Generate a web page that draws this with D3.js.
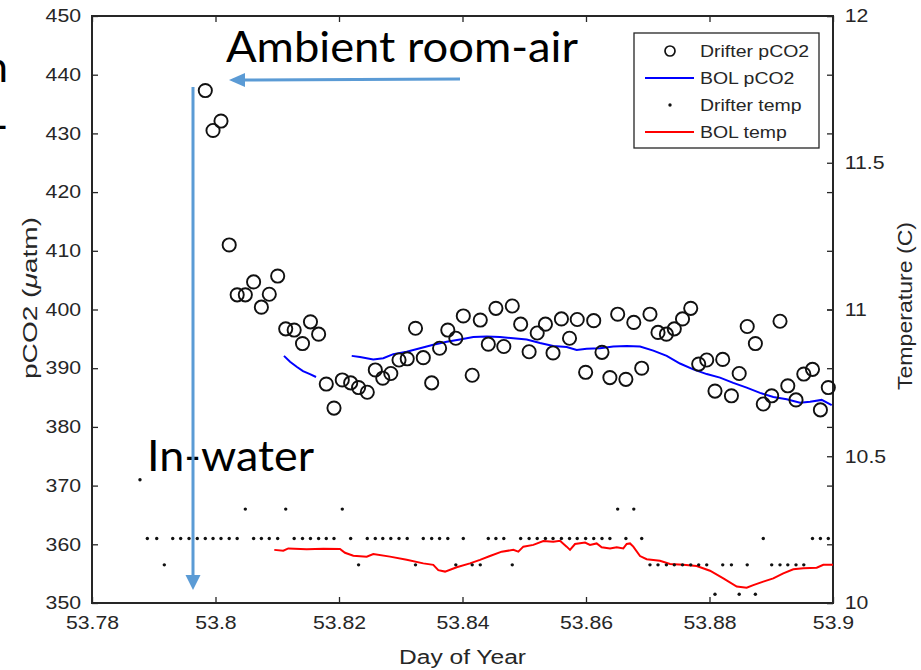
<!DOCTYPE html>
<html>
<head>
<meta charset="utf-8">
<script src="https://cdn.jsdelivr.net/npm/d3@7"></script>
<style>
  body { margin: 0; background: #fff; }
  svg { display: block; }
</style>
</head>
<body>
<div id="chart"></div>
<script>
// sample times of the drifter (day of year)
const sampleDays = [
  53.78777, 53.78896, 53.79048, 53.79171, 53.79307, 53.79436, 53.79571, 53.79705, 53.79835, 53.79960,
  53.80089, 53.80222, 53.80351, 53.80483, 53.80617, 53.80743, 53.80871, 53.81007, 53.81137, 53.81274,
  53.81409, 53.81538, 53.81670, 53.81794, 53.81919, 53.82053, 53.82189, 53.82317, 53.82458, 53.82588,
  53.82709, 53.82839, 53.82972, 53.83105, 53.83239, 53.83365, 53.83501, 53.83629, 53.83762, 53.83892,
  53.84013, 53.84157, 53.84288, 53.84418, 53.84541, 53.84669, 53.84806, 53.84942, 53.85079, 53.85210,
  53.85343, 53.85466, 53.85602, 53.85733, 53.85858, 53.85994, 53.86125, 53.86259, 53.86387, 53.86513,
  53.86646, 53.86774, 53.86902, 53.87036, 53.87166, 53.87302, 53.87430, 53.87563, 53.87696, 53.87825,
  53.87955, 53.88089, 53.88214, 53.88355, 53.88481, 53.88611, 53.88743, 53.88871, 53.89007, 53.89142,
  53.89268, 53.89401, 53.89527, 53.89668, 53.89796, 53.89924
];

const drifterTemp = [
  10.42, 10.22, 10.22, 10.13, 10.22, 10.22, 10.22, 10.22, 10.22, 10.22,
  10.22, 10.22, 10.22, 10.32, 10.22, 10.22, 10.22, 10.22, 10.32, 10.22,
  10.22, 10.22, 10.22, 10.22, 10.22, 10.32, 10.22, 10.13, 10.22, 10.22,
  10.22, 10.22, 10.22, 10.22, 10.13, 10.22, 10.22, 10.22, 10.22, 10.13,
  10.22, 10.13, 10.13, 10.22, 10.22, 10.22, 10.13, 10.22, 10.22, 10.22,
  10.22, 10.22, 10.22, 10.22, 10.22, 10.22, 10.22, 10.22, 10.22, 10.32,
  10.22, 10.32, 10.22, 10.13, 10.13, 10.13, 10.13, 10.13, 10.13, 10.13,
  10.13, 10.03, 10.13, 10.13, 10.03, 10.13, 10.03, 10.22, 10.13, 10.13,
  10.13, 10.13, 10.13, 10.22, 10.22, 10.22
];

// pCO2 starts with the 9th sample
const pco2Start = 8;
const drifterPco2 = [
  437.3, 430.5, 432.1, 411.0, 402.5, 402.5, 404.7, 400.4, 402.6, 405.7,
  396.7, 396.5, 394.2, 397.9, 395.8, 387.3, 383.2, 388.0, 387.5, 386.7,
  385.9, 389.7, 388.3, 389.1, 391.4, 391.6, 396.8, 391.8, 387.5, 393.4,
  396.5, 395.1, 398.9, 388.8, 398.2, 394.1, 400.2, 393.7, 400.6, 397.5,
  392.8, 396.0, 397.5, 392.6, 398.4, 395.1, 398.3, 389.3, 398.1, 392.7,
  388.4, 399.2, 388.1, 397.8, 390.0, 399.2, 396.1, 395.8, 396.7, 398.4,
  400.2, 390.7, 391.4, 386.1, 391.5, 385.3, 389.1, 397.1, 394.2, 383.9,
  385.3, 398.0, 387.0, 384.6, 389.0, 389.8, 382.9, 386.7
];

// BOL pCO2, two pieces
const bolPco2DaysA = [53.81109, 53.81207, 53.81320, 53.81417, 53.81530, 53.81628];
const bolPco2A = [392.1, 391.1, 390.2, 389.5, 389.0, 388.5];
const bolPco2DaysB = [
  53.82206, 53.82340, 53.82555, 53.82717, 53.82879, 53.83096, 53.83312, 53.83527, 53.83744, 53.83960,
  53.84175, 53.84392, 53.84607, 53.84823, 53.85040, 53.85255, 53.85470, 53.85687, 53.85849, 53.86011,
  53.86227, 53.86442, 53.86659, 53.86875, 53.87090, 53.87307, 53.87522, 53.87738, 53.87955, 53.88170,
  53.88385, 53.88602, 53.88818, 53.89033, 53.89250, 53.89466, 53.89628, 53.89817, 53.89979
];
const bolPco2B = [
  392.1, 391.9, 391.5, 391.7, 392.4, 392.8, 393.4, 394.0, 394.5, 394.9,
  395.3, 395.4, 395.3, 395.1, 394.9, 394.3, 393.8, 393.6, 393.1, 393.3,
  393.4, 393.7, 393.8, 393.7, 393.0, 392.1, 390.8, 389.8, 389.0, 388.4,
  387.5, 386.7, 385.8, 385.1, 384.7, 384.1, 384.3, 384.6, 383.7
];

// BOL temperature
const bolTempDays = [
  53.80952, 53.81098, 53.81179, 53.81477, 53.81746, 53.82016, 53.82097, 53.82232, 53.82449, 53.82555,
  53.82826, 53.83096, 53.83365, 53.83527, 53.83608, 53.83717, 53.83906, 53.84121, 53.84283, 53.84445,
  53.84635, 53.84823, 53.84904, 53.84985, 53.85147, 53.85309, 53.85470, 53.85579, 53.85687, 53.85741,
  53.85822, 53.85984, 53.86065, 53.86173, 53.86254, 53.86389, 53.86497, 53.86604, 53.86659, 53.86713,
  53.86766, 53.86875, 53.86983, 53.87198, 53.87360, 53.87576, 53.87793, 53.88008, 53.88224, 53.88441,
  53.88602, 53.88709, 53.88871, 53.89033, 53.89195, 53.89357, 53.89519, 53.89736, 53.89843, 53.90000
];
const bolTemp = [
  10.181, 10.178, 10.186, 10.183, 10.185, 10.184, 10.171, 10.161, 10.158, 10.167,
  10.158, 10.147, 10.135, 10.130, 10.112, 10.107, 10.122, 10.135, 10.147, 10.160,
  10.175, 10.181, 10.175, 10.192, 10.198, 10.211, 10.209, 10.212, 10.192, 10.181,
  10.201, 10.206, 10.198, 10.203, 10.190, 10.186, 10.190, 10.186, 10.201, 10.203,
  10.192, 10.160, 10.149, 10.144, 10.133, 10.130, 10.126, 10.110, 10.084, 10.056,
  10.052, 10.061, 10.073, 10.084, 10.101, 10.115, 10.118, 10.120, 10.130, 10.130
];

const xTicks = [53.78, 53.8, 53.82, 53.84, 53.86, 53.88, 53.9];
const pco2Ticks = [350, 360, 370, 380, 390, 400, 410, 420, 430, 440, 450];
const tempTicks = [10, 10.5, 11, 11.5, 12];
const legendNames = ["Drifter pCO2", "BOL pCO2", "Drifter temp", "BOL temp"];

const W = 921, H = 670;
const mLeft = 92, mRight = 833, mTop = 16, mBottom = 603;
const ink = "#262626";
const stretch = "scale(1.18,1)";

const svg = d3.select("#chart").append("svg").attr("width", W).attr("height", H)
  .style("font-family", "'Liberation Sans', Arial, sans-serif");

const x = d3.scaleLinear().domain([53.78, 53.9]).range([mLeft, mRight]);
const yL = d3.scaleLinear().domain([350, 450]).range([mBottom, mTop]);
const yR = d3.scaleLinear().domain([10, 12]).range([mBottom, mTop]);

// axes, ticks pointing inward like matlab
const styleAxis = (g) => {
  g.select(".domain").remove();
  g.selectAll("line").attr("stroke", ink).attr("stroke-width", 1.3);
  g.selectAll("text").attr("fill", ink).style("font-size", "18px").attr("transform", stretch);
};

svg.append("g").attr("transform", `translate(0,${mBottom})`)
  .call(d3.axisBottom(x).tickValues(xTicks).tickSizeInner(-6).tickSizeOuter(0).tickPadding(13).tickFormat(d3.format("")))
  .call(styleAxis);
svg.append("g").attr("transform", `translate(0,${mTop})`)
  .call(d3.axisTop(x).tickValues(xTicks).tickSizeInner(-6).tickSizeOuter(0).tickFormat(""))
  .call(styleAxis);
svg.append("g").attr("transform", `translate(${mLeft},0)`)
  .call(d3.axisLeft(yL).tickValues(pco2Ticks).tickSizeInner(-6).tickSizeOuter(0).tickPadding(9.3).tickFormat(d3.format("")))
  .call(styleAxis);
svg.append("g").attr("transform", `translate(${mRight},0)`)
  .call(d3.axisRight(yL).tickValues(pco2Ticks).tickSizeInner(-6).tickSizeOuter(0).tickFormat(""))
  .call(styleAxis);
svg.append("g").attr("transform", `translate(${mRight},0)`)
  .call(d3.axisRight(yR).tickValues(tempTicks).tickSizeInner(-6).tickSizeOuter(0).tickPadding(10).tickFormat(d3.format("")))
  .call(styleAxis);

svg.append("rect").attr("x", mLeft).attr("y", mTop).attr("width", mRight - mLeft).attr("height", mBottom - mTop)
  .attr("fill", "none").attr("stroke", ink).attr("stroke-width", 2);

// axis labels
svg.append("text").attr("x", (mLeft + mRight) / 2).attr("y", 664).attr("text-anchor", "middle")
  .attr("textLength", 127).attr("lengthAdjust", "spacingAndGlyphs")
  .attr("fill", ink).style("font-size", "20px").text("Day of Year");
const yLab = svg.append("text").attr("transform", "translate(37,298) rotate(-90)").attr("text-anchor", "middle")
  .attr("textLength", 162).attr("lengthAdjust", "spacingAndGlyphs")
  .attr("fill", ink).style("font-size", "21px");
yLab.append("tspan").text("pCO2 (");
yLab.append("tspan").style("font-style", "italic").text("\u03bc");
yLab.append("tspan").text("atm)");
svg.append("text").attr("transform", "translate(912,306) rotate(-90)").attr("text-anchor", "middle")
  .attr("textLength", 168).attr("lengthAdjust", "spacingAndGlyphs")
  .attr("fill", ink).style("font-size", "21px").text("Temperature (C)");

// BOL lines
const lineP = d3.line().x((d) => x(d[0])).y((d) => yL(d[1]));
const lineT = d3.line().x((d) => x(d[0])).y((d) => yR(d[1]));

[d3.zip(bolPco2DaysA, bolPco2A), d3.zip(bolPco2DaysB, bolPco2B)].forEach((seg) => {
  svg.append("path").attr("d", lineP(seg)).attr("fill", "none").attr("stroke", "#0000ff").attr("stroke-width", 2);
});
svg.append("path").attr("d", lineT(d3.zip(bolTempDays, bolTemp)))
  .attr("fill", "none").attr("stroke", "#ff0000").attr("stroke-width", 2);

// drifter temp dots
svg.append("g").selectAll("circle").data(d3.zip(sampleDays, drifterTemp)).enter().append("circle")
  .attr("cx", (d) => x(d[0])).attr("cy", (d) => yR(d[1])).attr("r", 1.7).attr("fill", "#111");

// drifter pCO2 circles
svg.append("g").selectAll("circle").data(drifterPco2).enter().append("circle")
  .attr("cx", (d, i) => x(sampleDays[i + pco2Start])).attr("cy", (d) => yL(d))
  .attr("r", 6.6).attr("fill", "none").attr("stroke", "#111").attr("stroke-width", 1.9);

// legend
const lg = svg.append("g");
lg.append("rect").attr("x", 634).attr("y", 33).attr("width", 185).attr("height", 115)
  .attr("fill", "#fff").attr("stroke", ink).attr("stroke-width", 1.3);
legendNames.forEach((name, i) => {
  const cy = 51 + i * 27;
  const item = lg.append("g").attr("transform", `translate(0,${cy})`);
  if (i === 0) item.append("circle").attr("cx", 670).attr("r", 5).attr("fill", "none").attr("stroke", "#111").attr("stroke-width", 1.7);
  if (i === 1) item.append("line").attr("x1", 645).attr("x2", 694).attr("stroke", "#0000ff").attr("stroke-width", 2);
  if (i === 2) item.append("circle").attr("cx", 670).attr("r", 1.7).attr("fill", "#111");
  if (i === 3) item.append("line").attr("x1", 645).attr("x2", 694).attr("stroke", "#ff0000").attr("stroke-width", 2);
  item.append("text").attr("transform", `translate(700,6) ${stretch}`)
    .attr("fill", ink).style("font-size", "16.5px").text(name);
});

// slide annotations (the two glyphs at the far left are cut by the slide edge, as in the source)
const blue = "#5b9bd5";
const ann = svg.append("g").style("font-family", "Lato, 'Open Sans', sans-serif").attr("fill", "#000");
ann.append("text").attr("x", 226).attr("y", 62).attr("textLength", 352).attr("lengthAdjust", "spacingAndGlyphs")
  .style("font-size", "42px").text("Ambient room-air");
ann.append("text").attr("x", 147).attr("y", 471).attr("textLength", 167).attr("lengthAdjust", "spacingAndGlyphs")
  .style("font-size", "42px").text("In-water");
ann.append("text").attr("x", 8).attr("y", 82).attr("text-anchor", "end").style("font-size", "42px").text("n");
ann.append("text").attr("x", 8).attr("y", 140).attr("text-anchor", "end").style("font-size", "42px").text("-");

ann.append("line").attr("x1", 460).attr("y1", 79).attr("x2", 242).attr("y2", 80)
  .attr("stroke", blue).attr("stroke-width", 3);
ann.append("path").attr("d", "M229,80 L245,73 L245,87 Z").attr("fill", blue);
ann.append("line").attr("x1", 193).attr("y1", 87).attr("x2", 193).attr("y2", 578)
  .attr("stroke", blue).attr("stroke-width", 3);
ann.append("path").attr("d", "M193,590 L185.5,575 L200.5,575 Z").attr("fill", blue);
</script>
</body>
</html>
